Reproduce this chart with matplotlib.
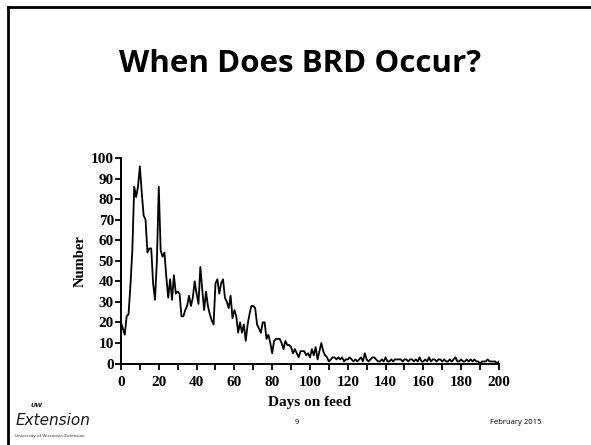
import numpy as np
import matplotlib
matplotlib.use("Agg")
import matplotlib.pyplot as plt
from matplotlib.lines import Line2D

# daily BRD cases, days 0..200
days = list(range(0, 201))
cases = [
    20, 17, 14, 23, 24, 38, 55, 86, 81, 86,
    96, 83, 72, 70, 54, 56, 56, 39, 31, 50,
    86, 55, 52, 54, 42, 32, 41, 31, 43, 34,
    35, 34, 23, 23, 26, 28, 33, 28, 32, 40,
    34, 29, 47, 36, 26, 35, 28, 24, 21, 19,
    39, 41, 34, 39, 41, 32, 30, 27, 33, 22,
    26, 23, 15, 20, 15, 19, 11, 19, 24, 28,
    28, 27, 19, 17, 15, 20, 20, 12, 14, 10,
    5, 11, 12, 12, 12, 10, 7, 11, 9, 9,
    8, 5, 7, 5, 3, 6, 6, 6, 4, 5,
    3, 7, 4, 8, 2, 6, 10, 6, 4, 3,
    1, 2, 3, 3, 2, 3, 2, 3, 1, 2,
    2, 3, 2, 1, 2, 1, 2, 3, 1, 5,
    2, 1, 2, 3, 3, 2, 1, 1, 2, 1,
    3, 1, 1, 2, 1, 2, 2, 2, 2, 1,
    2, 2, 1, 2, 2, 1, 2, 1, 3, 1,
    1, 2, 1, 3, 1, 2, 2, 1, 2, 2,
    1, 2, 1, 1, 2, 1, 2, 3, 1, 1,
    2, 1, 1, 2, 1, 2, 1, 2, 1, 1,
    0, 1, 1, 1, 2, 1, 1, 1, 1, 0,
    1,
]

title = "When Does BRD Occur?"
x_label = "Days on feed"
y_label = "Number"
page_no = "9"
date_text = "February 2015"

fig = plt.figure(figsize=(5.91, 4.45), dpi=100)
fig.patch.set_facecolor("white")

# slide frame (left and top edges)
fig.add_artist(Line2D([0.0135, 0.0135], [0.0, 0.985], transform=fig.transFigure, color="black", lw=2))
fig.add_artist(Line2D([0.0135, 1.0], [0.985, 0.985], transform=fig.transFigure, color="black", lw=2))

fig.text(0.508, 0.856, title, ha="center", va="center", fontsize=22.5,
         fontweight="bold", family="Open Sans", color="black")

ax = fig.add_axes([0.2047, 0.1831, 0.6396, 0.4618])
ax.plot(days, cases, color="black", lw=1.3)
ax.set_xlim(0, 200)
ax.set_ylim(0, 100)
ax.set_xticks(np.arange(0, 201, 20))
ax.set_xticks(np.arange(10, 200, 20), minor=True)
ax.set_yticks(np.arange(0, 101, 10))
for s in ["top", "right"]:
    ax.spines[s].set_visible(False)
for s in ["left", "bottom"]:
    ax.spines[s].set_linewidth(1.4)
ax.tick_params(which="both", direction="out", length=4, width=1.3)
ax.tick_params(axis="y", pad=1)
ax.tick_params(axis="x", pad=5)
for lab in ax.get_xticklabels() + ax.get_yticklabels():
    lab.set_family("Liberation Serif")
    lab.set_fontweight("bold")
    lab.set_fontsize(11)
ax.set_xlabel(x_label, family="Liberation Serif", fontweight="bold", fontsize=11, labelpad=5)
ax.set_ylabel(y_label, family="Liberation Serif", fontweight="bold", fontsize=10.5, labelpad=3)

# footer
fig.text(0.026, 0.055, "Extension", family="DejaVu Sans", style="italic",
         fontsize=11, color="#1a1a1a", ha="left", va="center")
fig.text(0.052, 0.089, "UW", family="DejaVu Sans", style="italic", fontweight="bold",
         fontsize=4.5, color="#1a1a1a", ha="left", va="center")
fig.text(0.026, 0.02, "University of Wisconsin-Extension", family="DejaVu Sans",
         fontsize=3.0, color="#333333", ha="left", va="center")
fig.text(0.503, 0.051, page_no, family="Open Sans", fontsize=5.5, ha="center", va="center")
fig.text(0.872, 0.051, date_text, family="Open Sans", fontsize=5.5, ha="center", va="center")

fig.savefig("out.png", dpi=100)
